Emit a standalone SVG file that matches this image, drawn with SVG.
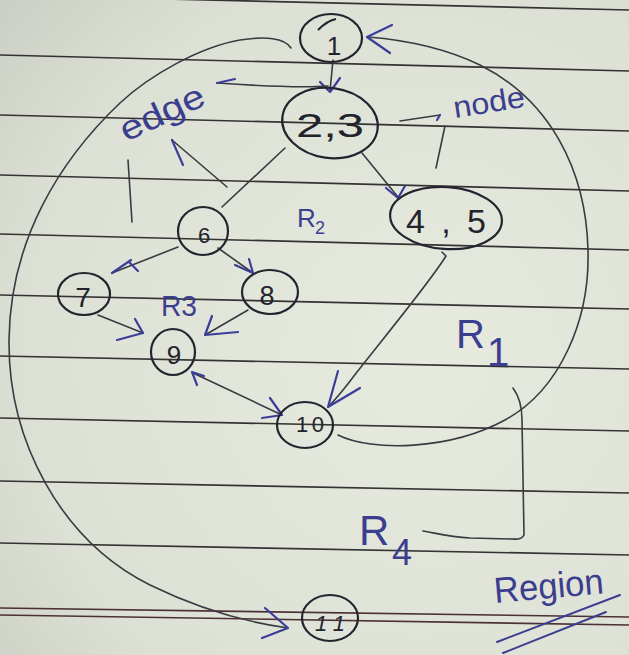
<svg xmlns="http://www.w3.org/2000/svg" width="629" height="655" viewBox="0 0 629 655">
  <defs>
    <radialGradient id="paper" cx="420" cy="360" r="560" gradientUnits="userSpaceOnUse">
      <stop offset="0" stop-color="#e6eadf"/>
      <stop offset="0.7" stop-color="#dde1d5"/>
      <stop offset="1" stop-color="#c9cdc3"/>
    </radialGradient>
    <style>
      .rule { stroke: #333333; stroke-width: 1.7; fill: none; }
      .margin { stroke: #4b3036; stroke-width: 1.6; fill: none; }
      .node { fill: none; stroke: #23242e; stroke-width: 2.2; }
      .edge { fill: none; stroke: #3a3a42; stroke-width: 1.6; stroke-linecap: round; }
      .head { fill: none; stroke: #3b3e98; stroke-width: 2.2; stroke-linecap: round; stroke-linejoin: round; }
      .num { font-family: "Liberation Sans", Arial, sans-serif; fill: #22232d; }
      .lbl { font-family: "Liberation Sans", Arial, sans-serif; fill: #3b3e8e; }
      .pen { fill: none; stroke: #3b3e8e; stroke-width: 2; stroke-linecap: round; }
    </style>
  </defs>

  <!-- ruled notebook page -->
  <rect width="629" height="655" fill="url(#paper)"/>
  <g id="ruling">
    <line class="rule" x1="0" y1="-5" x2="629" y2="10"/>
    <line class="rule" x1="0" y1="55" x2="629" y2="71"/>
    <line class="rule" x1="0" y1="115" x2="629" y2="131"/>
    <line class="rule" x1="0" y1="175" x2="629" y2="191"/>
    <line class="rule" x1="0" y1="234" x2="629" y2="250"/>
    <line class="rule" x1="0" y1="295" x2="629" y2="309"/>
    <line class="rule" x1="0" y1="356" x2="629" y2="369"/>
    <line class="rule" x1="0" y1="418" x2="629" y2="431"/>
    <line class="rule" x1="0" y1="481" x2="629" y2="493"/>
    <line class="rule" x1="0" y1="543" x2="629" y2="555"/>
    <line class="margin" x1="0" y1="608" x2="629" y2="617"/>
    <line class="margin" x1="0" y1="615" x2="629" y2="625"/>
  </g>

  <!-- connectors -->
  <g id="connectors">
    <!-- 1 -> 2,3 -->
    <path class="edge" d="M333,60 L330,91"/>
    <path class="head" d="M320,82 L330,92 L340,78"/>
    <!-- 2,3 -> 4,5 -->
    <path class="edge" d="M362,153 L398,197"/>
    <path class="head" d="M386,188 L398,198 L405,186"/>
    <!-- 2,3 - 6 -->
    <path class="edge" d="M285,148 L222,207"/>
    <!-- 6 -> 7 -->
    <path class="edge" d="M178,247 L112,273"/>
    <path class="head" d="M131,260 L112,273 M129,262 L138,271"/>
    <!-- 6 -> 8 -->
    <path class="edge" d="M218,248 L253,273"/>
    <path class="head" d="M235,265 L253,273 L249,259"/>
    <!-- 7 -> 9 -->
    <path class="edge" d="M98,315 L143,333"/>
    <path class="head" d="M135,319 L143,333 L117,340"/>
    <!-- 8 -> 9 -->
    <path class="edge" d="M248,310 L205,335"/>
    <path class="head" d="M212,316 L205,335 L238,332"/>
    <!-- 9 <-> 10 -->
    <path class="edge" d="M193,373 L282,415"/>
    <path class="head" d="M197,385 L192,372 L204,376"/>
    <path class="head" d="M270,398 L282,415 L262,418"/>
    <!-- 4,5 -> 10 -->
    <path class="edge" d="M442,252 L446,256 C430,282 382,340 357,372 C345,388 336,399 328,407"/>
    <path class="head" d="M338,371 L328,407 L360,388"/>
    <!-- 10 -> 1 (right loop) -->
    <path class="edge" d="M338,435 C372,452 450,450 505,420 C560,390 590,320 588,250 C586,170 550,100 480,65 C445,48 405,40 368,37"/>
    <path class="head" d="M392,25 L367,37 L390,53"/>
    <!-- 1 -> 11 (left loop) -->
    <path class="edge" d="M291,48 C285,38 265,36 240,40 C200,47 150,75 120,103 C60,160 10,240 9,340 C8,440 60,540 150,585 C195,607 245,622 288,628"/>
    <path class="head" d="M265,608 L288,628 L262,638"/>
    <!-- R4 pointer -->
    <path class="edge" d="M513,388 C519,396 522,405 522,420 L524,535 Q522,540 512,539 L470,538 C450,537 435,533 423,531"/>
  </g>

  <!-- nodes -->
  <g id="node-1">
    <ellipse class="node" cx="331" cy="38" rx="31" ry="24"/>
    <path class="node" d="M318,30 C324,24 330,20 336,19"/>
    <text class="num" x="334" y="55" font-size="26" text-anchor="middle">1</text>
  </g>
  <g id="node-2-3">
    <ellipse class="node" cx="330" cy="123" rx="48" ry="35" transform="rotate(8 330 123)"/>
    <text class="num" x="296" y="137" font-size="34" textLength="68" lengthAdjust="spacingAndGlyphs">2,3</text>
  </g>
  <g id="node-4-5">
    <ellipse class="node" cx="446" cy="218" rx="56" ry="31" transform="rotate(4 446 218)"/>
    <text class="num" x="406" y="233" font-size="34" textLength="80" lengthAdjust="spacing">4,5</text>
  </g>
  <g id="node-6">
    <ellipse class="node" cx="203" cy="231" rx="25" ry="24"/>
    <text class="num" x="204" y="243" font-size="22" text-anchor="middle">6</text>
  </g>
  <g id="node-7">
    <ellipse class="node" cx="84" cy="294" rx="26" ry="21"/>
    <text class="num" x="83" y="307" font-size="28" text-anchor="middle">7</text>
  </g>
  <g id="node-8">
    <ellipse class="node" cx="270" cy="292" rx="28" ry="22"/>
    <text class="num" x="267" y="305" font-size="27" text-anchor="middle">8</text>
  </g>
  <g id="node-9">
    <ellipse class="node" cx="173" cy="352" rx="22" ry="23"/>
    <text class="num" x="174" y="364" font-size="26" text-anchor="middle">9</text>
  </g>
  <g id="node-10">
    <ellipse class="node" cx="305" cy="425" rx="28" ry="23"/>
    <text class="num" x="296" y="432" font-size="22" textLength="28" lengthAdjust="spacing">10</text>
  </g>
  <g id="node-11">
    <ellipse class="node" cx="330" cy="618" rx="28" ry="23"/>
    <text class="num" x="315" y="631" font-size="22" font-style="italic" textLength="30" lengthAdjust="spacing">11</text>
  </g>

  <!-- annotations -->
  <g id="label-edge">
    <text class="lbl" x="126" y="142" font-size="34" textLength="90" lengthAdjust="spacingAndGlyphs" transform="rotate(-25 126 142)">edge</text>
    <path class="edge" d="M328,86 C300,88 260,86 217,83"/>
    <path class="head" d="M235,79 L217,83"/>
    <path class="edge" d="M227,187 L172,140"/>
    <path class="head" d="M172,140 L183,165"/>
    <path class="edge" d="M128,160 L132,222"/>
  </g>
  <g id="label-node">
    <text class="lbl" x="455" y="118" font-size="30" textLength="72" lengthAdjust="spacingAndGlyphs" transform="rotate(-9 455 118)">node</text>
    <path class="edge" d="M400,121 L440,115"/>
    <path class="head" d="M440,115 L437,120"/>
    <path class="edge" d="M445,126 L436,168"/>
  </g>
  <g id="regions">
    <text class="lbl" x="297" y="227" font-size="26">R<tspan x="315" y="234" font-size="18">2</tspan></text>
    <text class="lbl" x="161" y="316" font-size="30" textLength="36" lengthAdjust="spacingAndGlyphs">R3</text>
    <text class="lbl" x="456" y="348" font-size="40">R<tspan x="487" y="366" font-size="40">1</tspan></text>
    <text class="lbl" x="359" y="545" font-size="42">R<tspan x="392" y="565" font-size="36">4</tspan></text>
  </g>
  <g id="label-region">
    <text class="lbl" x="495" y="603" font-size="36" textLength="110" lengthAdjust="spacingAndGlyphs" transform="rotate(-5 495 603)">Region</text>
    <path class="pen" d="M497,642 L620,595"/>
    <path class="pen" d="M503,653 L606,612"/>
  </g>
</svg>
